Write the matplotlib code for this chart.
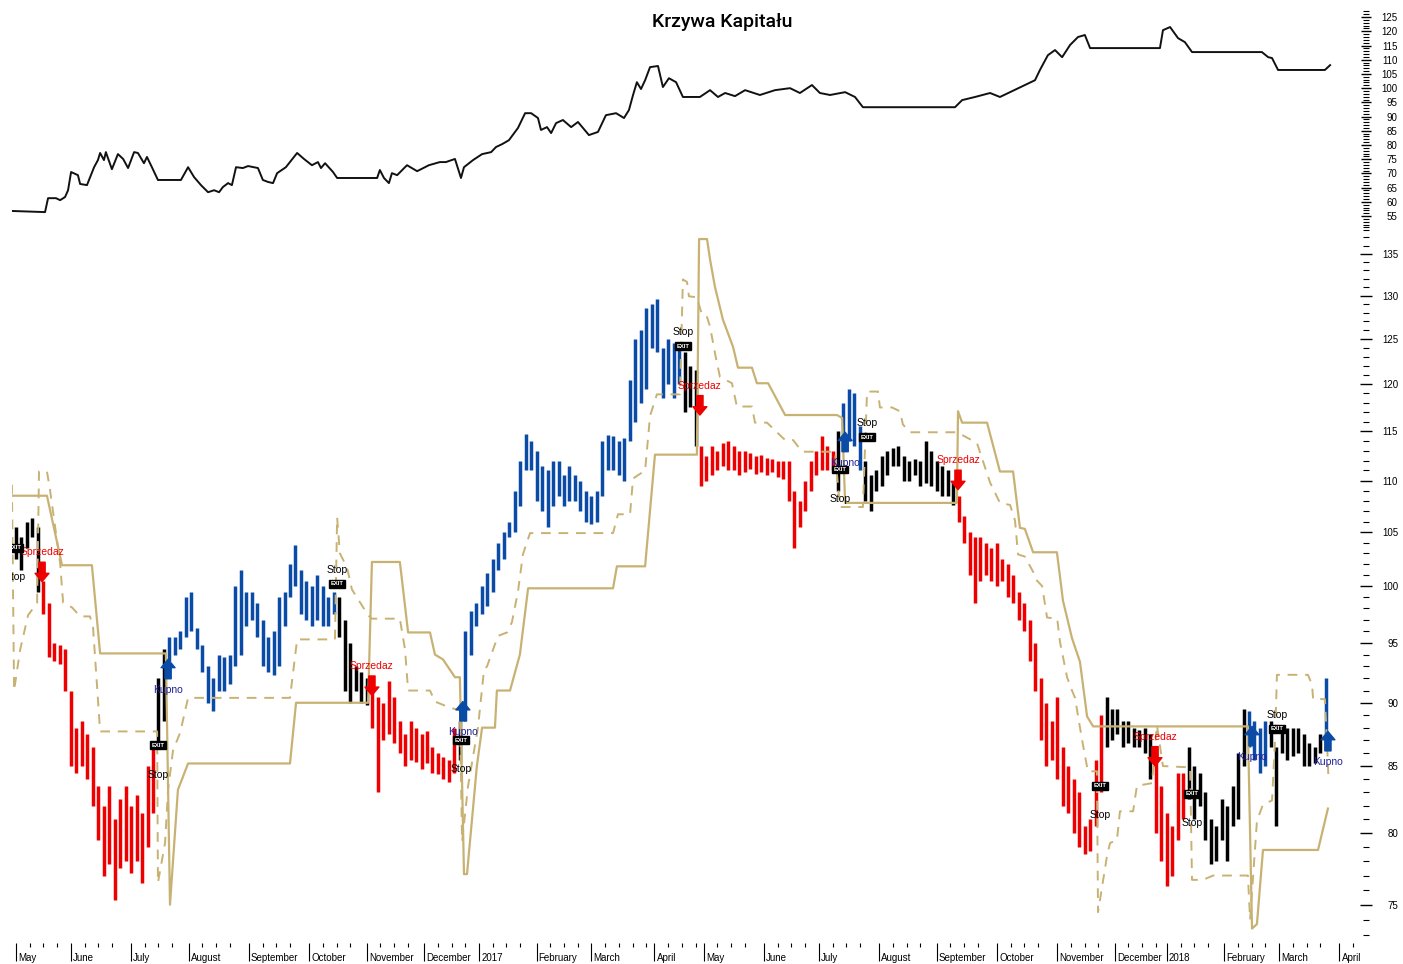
import numpy as np
import matplotlib
matplotlib.use('Agg')
import matplotlib.pyplot as plt
from matplotlib.ticker import FixedLocator, NullFormatter
from matplotlib.transforms import blended_transform_factory

plt.rcParams['font.family'] = ['Liberation Sans', 'DejaVu Sans']

# x axis = trading-day index (0 = first session of May 2016)
month_pos = [0, 20, 42, 63, 85, 107, 128, 149, 169, 190, 210, 233,
             251, 273, 293, 315, 336, 358, 380, 401, 420, 441, 461, 483]
month_lab = ['May', 'June', 'July', 'August', 'September', 'October', 'November',
             'December', '2017', 'February', 'March', 'April', 'May', 'June', 'July',
             'August', 'September', 'October', 'November', 'December', '2018',
             'February', 'March', 'April']

# price bars, one every 2 sessions
bar_lows = [
    102.5, 101.5, 103.5, 104.5, 99.5,
    97.5, 93.8, 93.5, 93.2, 91.0, 85.0, 84.5, 85.0, 84.0, 82.0, 79.5, 77.0, 77.8, 75.3, 77.5,
    78.0, 77.2, 78.0, 76.5, 79.0, 81.5,
    86.5, 88.5,
    93.5, 94.0, 94.5, 95.5, 96.0, 94.5, 92.5, 90.0, 89.3, 91.0, 91.0, 91.5, 93.0, 94.0, 96.5,
    97.0, 95.5, 93.0, 92.5, 92.3, 93.0, 96.5, 99.0, 100.0, 97.5, 97.0, 96.5, 97.0, 96.5, 96.5, 97.5,
    95.5, 91.0, 90.0, 91.0, 90.0, 89.8,
    88.0, 83.0, 87.0, 87.5, 86.8, 86.0, 85.0, 85.5, 85.3, 84.8, 85.2, 84.5, 84.4, 84.0, 83.8, 84.5,
    85.5,
    88.5, 94.0, 96.5, 97.5, 98.2, 99.5, 101.5, 102.5, 104.5, 105.0, 107.5, 111.0, 111.0, 108.0,
    107.0, 105.5, 107.5, 108.5, 107.5, 108.0, 108.0, 107.0, 106.0, 105.8, 106.0, 108.5, 111.0,
    111.0, 110.5, 110.0, 114.0, 116.0, 118.0, 119.5, 124.0, 123.5, 118.5, 120.0, 118.5, 120.0,
    117.0, 117.5, 113.5,
    109.5, 110.0, 110.5, 111.0, 111.5, 111.0, 111.0, 110.5, 110.8, 111.2, 110.6, 110.8, 110.5,
    110.8, 110.4, 110.2, 108.0, 103.5, 105.5, 107.0, 109.0, 110.5, 111.0, 111.0, 111.0,
    109.0,
    113.0, 114.0, 113.5, 111.0,
    108.0, 107.0, 109.0, 109.5, 110.5, 111.5, 111.5, 110.0, 110.0, 110.5, 109.5, 109.8, 109.5,
    109.0, 108.5, 108.5, 107.6,
    106.0, 104.0, 101.0, 98.5, 100.5, 101.0, 100.5, 100.0, 100.5, 99.0, 98.5, 97.0, 96.0, 93.5,
    91.0, 87.0, 85.0, 85.5, 84.0, 82.0, 81.5, 80.0, 79.0, 78.5, 78.7, 80.5, 83.0,
    86.5, 87.0, 87.5, 86.5, 86.8, 86.5, 86.5, 86.0, 84.0,
    80.0, 78.0, 76.3, 77.0, 79.5, 81.0,
    82.5, 81.0, 82.0, 79.5, 77.8, 78.0, 79.5, 78.0, 80.5, 81.0, 85.0,
    86.5, 85.5, 84.5, 85.0,
    86.5, 80.5, 86.0, 85.5, 85.8, 86.0, 85.0, 85.0, 85.2, 86.0,
    87.3,
]
bar_highs = [
    105.5, 104.5, 106.0, 106.3, 105.5,
    100.5, 98.5, 95.0, 94.8, 94.5, 91.0, 88.0, 88.5, 87.5, 86.5, 83.5, 82.0, 83.5, 81.0, 82.5,
    83.5, 82.0, 82.8, 81.5, 85.0, 86.5,
    92.0, 94.5,
    95.5, 95.5, 96.0, 99.0, 99.5, 96.3, 94.8, 93.0, 92.0, 94.0, 93.8, 94.0, 100.0, 101.5, 99.5,
    99.5, 98.5, 97.0, 95.5, 96.0, 99.0, 99.5, 102.0, 103.8, 101.5, 100.5, 100.0, 101.0, 100.0,
    99.0, 99.5,
    99.0, 97.0, 95.0, 93.0, 92.5, 92.0,
    91.5, 90.5, 90.0, 91.8, 90.5, 88.5, 87.5, 88.5, 88.0, 87.5, 87.7, 86.5, 86.0, 85.7, 85.5, 88.0,
    88.5,
    96.0, 97.8, 98.5, 100.0, 101.2, 102.5, 104.0, 105.0, 106.0, 109.0, 112.0, 114.7, 114.0, 113.0,
    111.5, 111.0, 112.0, 112.0, 110.5, 111.5, 110.5, 110.0, 109.0, 108.5, 109.0, 114.0, 114.6,
    114.5, 114.0, 114.3, 120.5, 125.0, 126.0, 128.5, 129.0, 129.6, 124.0, 125.0, 124.5, 124.5,
    123.5, 122.0, 121.5,
    113.5, 112.5, 113.5, 113.0, 113.8, 114.0, 113.5, 113.0, 113.0, 112.8, 112.5, 112.6, 112.3,
    112.2, 112.0, 112.0, 112.0, 109.0, 108.0, 110.0, 112.0, 113.0, 114.5, 113.5, 113.0,
    115.0,
    118.0, 119.5, 119.0, 115.5,
    112.0, 110.5, 111.0, 112.5, 113.0, 113.3, 113.5, 112.5, 112.0, 112.2, 112.0, 114.0, 113.0,
    112.0, 111.5, 111.0, 110.0,
    108.5, 106.5, 105.0, 104.5, 104.5, 104.0, 103.5, 104.0, 102.5, 102.0, 101.0, 99.5, 98.5, 97.0,
    95.0, 92.0, 90.0, 88.5, 90.5, 86.5, 85.0, 84.0, 83.0, 80.5, 81.0, 85.5, 89.0,
    90.5, 89.5, 89.5, 88.5, 88.5, 88.0, 87.8, 88.0, 87.5,
    86.0, 83.5, 81.5, 80.5, 84.5, 84.5,
    86.5, 85.0, 84.5, 83.0, 81.0, 80.5, 82.5, 82.0, 83.5, 86.0, 89.5,
    89.3, 88.5, 88.0, 88.5,
    88.5, 86.5, 88.0, 88.0, 88.0, 88.0, 87.5, 86.8, 86.5, 87.5,
    92.0,
]

# position state: first session of each regime and its bar colour
regime_start = [0, 10, 52, 56, 118, 130, 162, 164, 244, 250, 300, 302, 310, 344,
                398, 416, 428, 450, 458, 478]
regime_color = ['black', 'red', 'black', 'blue', 'black', 'red', 'black', 'blue', 'black',
                'red', 'black', 'blue', 'black', 'red', 'black', 'red', 'black', 'blue',
                'black', 'blue']

# trailing channels (solid = long channel, dashed = short channel)
solid_x = [-1.5, 11.3, 16.8, 27.7, 30.7, 54.7, 56.2, 59.1, 62.8, 100.0, 102.2, 128.5, 129.9,
           140.1, 143.1, 151.1, 152.9, 155.8, 160.2, 162.0, 163.5, 164.6, 168.2, 170.1, 174.8,
           175.5, 180.3, 183.9, 186.9, 217.9, 219.3, 229.6, 233.2, 248.5, 249.3, 252.2, 253.3,
           255.1, 258.0, 261.7, 263.5, 268.6, 270.4, 274.5, 280.7, 299.6, 301.5, 302.6, 343.4,
           343.8, 345.3, 354.4, 359.1, 363.9, 366.4, 368.2, 371.2, 379.9, 382.1, 385.4, 388.3,
           390.9, 393.1, 449.6, 451.1, 452.9, 455.1, 475.2, 478.8]
solid_y = [108.5, 108.5, 101.9, 101.9, 94.1, 94.1, 75.0, 83.2, 85.2, 85.2, 90.0, 90.0, 102.2,
           102.2, 95.9, 95.9, 94.0, 93.6, 92.1, 92.1, 77.1, 77.1, 85.0, 88.0, 88.0,
           91.0, 91.0, 94.0, 99.8, 99.8, 101.8, 101.8, 112.6, 112.6, 136.8, 136.8, 134.3,
           131.0, 127.2, 124.1, 121.8, 121.8, 120.1, 120.1, 116.7, 116.7, 116.4, 107.8, 107.8,
           117.1, 115.9, 115.9, 110.9, 110.9, 105.4, 105.3, 103.1, 103.1, 98.7, 95.4, 93.4,
           88.9, 88.1, 88.1, 73.4, 73.7, 78.8, 78.8, 81.8]
dash_x = [-1.5, -0.7, 1.5, 4.4, 7.7, 8.4, 11.3, 12.4, 16.1, 17.2, 20.4, 23.4, 27.0, 28.1, 30.7,
          51.5, 51.8, 54.4, 55.5, 57.3, 59.9, 62.8, 100.0, 102.6, 116.4, 117.2, 118.2, 120.8,
          122.6, 128.5, 129.9, 140.1, 142.0, 143.1, 151.1, 152.9, 158.4, 162.0, 162.8, 165.0,
          168.6, 170.8, 171.9, 175.9, 179.2, 181.0, 183.2, 185.0, 187.6, 217.9, 219.7, 224.1,
          225.2, 229.6, 231.4, 233.9, 242.3, 243.4, 244.9, 245.6, 248.5, 250.4, 252.2, 253.3,
          255.1, 256.9, 261.3, 263.1, 268.6, 269.7, 274.1, 278.8, 280.7, 283.6, 286.9, 298.9,
          300.7, 309.1, 310.6, 314.6, 315.3, 319.7, 322.6, 323.7, 326.3, 343.4, 350.7, 355.5,
          357.3, 359.1, 362.8, 364.6, 365.7, 368.2, 371.2, 372.6, 374.5, 376.3, 380.0, 381.0,
          383.6, 385.4, 386.5, 389.1, 391.2, 394.5, 394.9, 398.2, 399.3, 401.8, 402.9, 407.7,
          409.1, 414.6, 416.4, 418.6, 428.5, 429.2, 433.2, 436.9, 449.6, 450.4, 452.9, 455.1,
          458.4, 459.5, 460.2, 471.5, 473.0, 473.4, 477.7, 478.8, 479.0]
dash_y = [109.6, 91.0, 94.4, 97.4, 98.5, 110.9, 110.9, 109.1, 102.1, 98.5, 98.1, 97.3, 97.3,
          96.4, 87.7, 87.7, 76.5, 79.3, 83.2, 86.2, 87.6, 90.4, 90.4, 95.3, 95.3, 106.4, 103.0,
          101.7, 99.7, 97.4, 97.1, 97.1, 94.4, 91.0, 91.0, 90.1, 89.6, 89.4, 79.4, 83.5, 88.0,
          92.7, 93.0, 95.6, 95.9, 96.8, 99.5, 102.9, 104.9, 104.9, 106.7, 106.7, 110.2, 111.0,
          116.6, 118.9, 118.9, 131.9, 131.6, 129.9, 129.8, 127.7, 127.5, 126.4, 123.4, 120.8,
          120.1, 117.6, 117.6, 115.9, 115.9, 114.6, 114.1, 114.1, 112.9, 112.9, 107.4, 107.4,
          119.2, 119.2, 117.5, 117.5, 117.1, 115.7, 114.9, 114.9, 113.8, 109.8, 108.8, 107.8,
          107.6, 106.1, 102.9, 102.7, 101.3, 100.5, 100.0, 97.2, 97.1, 95.1, 92.1, 91.0, 90.4,
          87.0, 84.6, 84.6, 74.5, 78.4, 79.3, 79.5, 81.6, 81.6, 83.5, 83.7, 88.2, 85.0, 84.9,
          76.7, 76.7, 77.0, 77.0, 74.0, 80.9, 82.1, 82.4, 87.0, 92.3, 92.3, 91.5, 90.3, 90.3,
          85.2, 83.9]

# signals: session index and price at the marker
sell_x = [9.5, 129.9, 249.6, 343.8, 415.7]
sell_p = [100.4, 90.6, 116.7, 109.1, 85.0]
buy_x = [55.5, 163.1, 302.6, 451.1, 478.8]
buy_p = [93.6, 90.1, 114.9, 88.1, 87.7]
exit_x = [-0.2, 51.8, 117.2, 162.4, 243.4, 300.7, 310.6, 395.6, 429.2, 460.2]
exit_p = [103.5, 86.6, 100.2, 87.0, 124.2, 111.1, 114.4, 83.5, 82.9, 87.9]
exit_from_long = [False, False, True, False, True, False, True, False, False, True]

# equity curve
eq_x = [-1.5, 10.6, 11.7, 14.6, 16.1, 17.9, 19.0, 20.1, 22.6, 23.4, 25.9, 28.5, 29.9, 30.7,
        32.1, 32.8, 35.0, 37.2, 39.1, 40.9, 43.1, 44.5, 46.7, 47.8, 49.6, 51.8, 60.2, 62.8,
        65.0, 67.5, 70.1, 72.3, 74.1, 75.5, 77.4, 78.8, 80.3, 82.8, 84.7, 88.3, 90.1, 92.0,
        93.8, 95.3, 98.5, 102.6, 105.1, 108.0, 110.2, 111.3, 112.8, 115.7, 117.2, 131.8,
        132.8, 134.3, 136.1, 137.2, 139.1, 142.7, 146.4, 150.7, 154.7, 156.9, 160.2, 162.4,
        163.5, 166.8, 170.1, 173.4, 175.2, 177.4, 179.9, 183.2, 185.8, 188.0, 190.5, 191.6,
        193.8, 195.3, 197.1, 199.6, 202.6, 205.1, 209.1, 212.4, 215.3, 219.0, 221.9, 223.7,
        225.2, 226.6, 228.1, 229.6, 231.4, 234.3, 236.1, 238.3, 240.9, 243.4, 249.6, 253.3,
        256.2, 258.8, 262.4, 266.1, 271.5, 277.0, 282.5, 286.1, 290.5, 293.4, 297.1, 302.6,
        306.2, 309.1, 342.7, 345.3, 350.0, 355.5, 359.1, 362.8, 368.2, 371.9, 373.7, 376.6,
        379.2, 381.8, 384.7, 387.6, 390.1, 392.0, 417.5, 418.6, 421.2, 424.1, 426.6, 429.2,
        454.7, 457.0, 458.4, 460.6, 477.7, 479.6]
eq_y = [56.8, 56.4, 61.3, 61.3, 60.6, 61.7, 64.1, 70.5, 69.4, 66.3, 65.9, 72.2, 74.7, 77.2,
        74.7, 77.5, 71.5, 76.8, 75.1, 71.9, 77.5, 77.2, 73.6, 75.8, 72.2, 67.7, 67.7, 72.2,
        68.7, 65.9, 63.4, 64.1, 63.4, 65.2, 66.6, 65.9, 72.2, 71.9, 72.6, 71.9, 67.7, 67.0,
        66.6, 70.1, 72.2, 77.2, 75.1, 72.9, 74.0, 71.9, 73.6, 70.5, 68.4, 68.4,
        71.2, 68.4, 66.6, 70.1, 69.4, 72.9, 70.8, 72.9, 74.0, 74.0, 75.1, 68.4,
        72.2, 74.7, 76.8, 77.5, 79.3, 80.3, 81.7, 86.0, 91.2, 91.2, 89.5, 85.3,
        86.3, 84.2, 87.7, 88.8, 86.3, 88.1, 83.5, 84.6, 90.5, 91.2, 89.5, 92.3,
        97.6, 102.1, 99.7, 102.8, 107.4, 107.8, 100.4, 103.5, 102.1, 96.9, 96.9, 99.3,
        96.9, 98.3, 97.2, 99.3, 97.6, 99.3, 100.0, 98.3, 101.1, 98.3, 97.6, 98.6,
        96.9, 93.3, 93.3, 95.8, 96.9, 98.3, 96.9, 98.6, 101.1, 102.8, 106.4, 111.6,
        113.4, 110.9, 115.2, 118.0, 118.7, 114.1, 114.1, 120.4, 121.5, 117.6, 116.2, 112.7,
        112.7, 110.9, 110.6, 106.4, 106.4, 108.1]

GOLD = '#c8b273'
BLUE = '#0a4ba6'
x_lim = (-1.46, 492.7)

fig = plt.figure(figsize=(14.03, 9.64), dpi=100)
ax_eq = fig.add_axes([12 / 1403, 1 - 232 / 964, 1354 / 1403, 222 / 964])
ax = fig.add_axes([12 / 1403, 1 - 943 / 964, 1354 / 1403, 708 / 964])

# ---- equity panel ----
ax_eq.plot(eq_x, eq_y, color='#111111', lw=1.4)
ax_eq.set_xticks([])
ax_eq.set_xlim(*x_lim)
ax_eq.set_ylim(49.4, 127.5)
for s in ax_eq.spines.values():
    s.set_visible(False)
ax_eq.yaxis.tick_right()
ax_eq.set_yticks(range(55, 126, 5))
ax_eq.yaxis.set_minor_locator(FixedLocator(range(50, 128)))
ax_eq.tick_params(axis='y', which='major', direction='inout', length=7, width=1, labelsize=7, pad=19)
ax_eq.tick_params(axis='y', which='minor', direction='inout', length=4, width=0.8)
for lab in ax_eq.get_yticklabels():
    lab.set_horizontalalignment('right')

# ---- price panel ----
colors = []
bar_x = np.arange(len(bar_lows)) * 2
for x in bar_x:
    r = np.searchsorted(regime_start, x, side='right') - 1
    colors.append({'black': 'black', 'red': '#ee0000', 'blue': BLUE}[regime_color[r]])
ax.vlines(bar_x, bar_lows, bar_highs, colors=colors, linewidth=2.5)

ax.plot(solid_x, solid_y, color=GOLD, lw=1.6)
ax.plot(dash_x, dash_y, color=GOLD, lw=1.4, ls=(0, (5, 4)))

for x, p in zip(sell_x, sell_p):
    ax.annotate('', xy=(x, p), xytext=(0, 14), textcoords='offset points',
                arrowprops=dict(arrowstyle='simple,head_length=0.6,head_width=1.0,tail_width=0.45',
                                color='#ee0000', shrinkA=0, shrinkB=0))
    ax.annotate('Sprzedaz', xy=(x, p), xytext=(0, 21), textcoords='offset points',
                ha='center', va='center', fontsize=7.5, color='#ee0000')
for x, p in zip(buy_x, buy_p):
    ax.annotate('', xy=(x, p), xytext=(0, -14), textcoords='offset points',
                arrowprops=dict(arrowstyle='simple,head_length=0.6,head_width=1.0,tail_width=0.45',
                                color=BLUE, shrinkA=0, shrinkB=0))
    ax.annotate('Kupno', xy=(x, p), xytext=(0, -22), textcoords='offset points',
                ha='center', va='center', fontsize=7.5, color='#1f1f9a')
for x, p, from_long in zip(exit_x, exit_p, exit_from_long):
    ax.text(x, p, 'EXIT', fontsize=4.2, color='white', ha='center', va='center',
            fontweight='bold', clip_on=True,
            bbox=dict(boxstyle='square,pad=0.25', fc='black', ec='black'))
    ax.annotate('Stop', xy=(x, p), xytext=(0, 10 if from_long else -21),
                textcoords='offset points', ha='center', va='center', fontsize=7.5,
                color='black', annotation_clip=True, clip_on=True)

ax.set_yscale('log')
for s in ax.spines.values():
    s.set_visible(False)
ax.yaxis.tick_right()
ax.yaxis.set_major_locator(FixedLocator(range(75, 136, 5)))
ax.yaxis.set_major_formatter(plt.FuncFormatter(lambda v, _: f'{v:.0f}'))
ax.yaxis.set_minor_locator(FixedLocator(range(73, 138)))
ax.yaxis.set_minor_formatter(NullFormatter())
ax.tick_params(axis='y', which='major', direction='inout', length=8, width=1, labelsize=7, pad=19)
ax.tick_params(axis='y', which='minor', direction='inout', length=4, width=0.8)

ax.set_xticks(month_pos)
ax.set_xticklabels([])
minor = []
for m0, m1 in zip(month_pos, month_pos[1:] + [month_pos[-1] + 8]):
    minor += [t for t in range(m0 + 5, m1 - 2, 5)]
ax.set_xticks(minor, minor=True)
ax.tick_params(axis='x', which='major', direction='out', length=13, width=0.8)
ax.tick_params(axis='x', which='minor', direction='out', length=3, width=0.8)
# limits last, so the tick calls cannot widen them
ax.set_xlim(*x_lim)
ax.set_ylim(72.45, 137.3)
for lab in ax.get_yticklabels():
    lab.set_horizontalalignment('right')

trans = blended_transform_factory(ax.transData, ax.transAxes)
for m, lab in zip(month_pos, month_lab):
    ax.annotate(lab, xy=(m, 0), xycoords=trans, xytext=(1.5, -11), textcoords='offset points',
                ha='left', va='center', fontsize=7, annotation_clip=False)

fig.text(722 / 1403, 1 - 22 / 964, 'Krzywa Kapitału', ha='center', va='center',
         fontsize=14, fontweight='medium', family=['Roboto', 'DejaVu Sans'])

fig.savefig('out.png', dpi=100)
